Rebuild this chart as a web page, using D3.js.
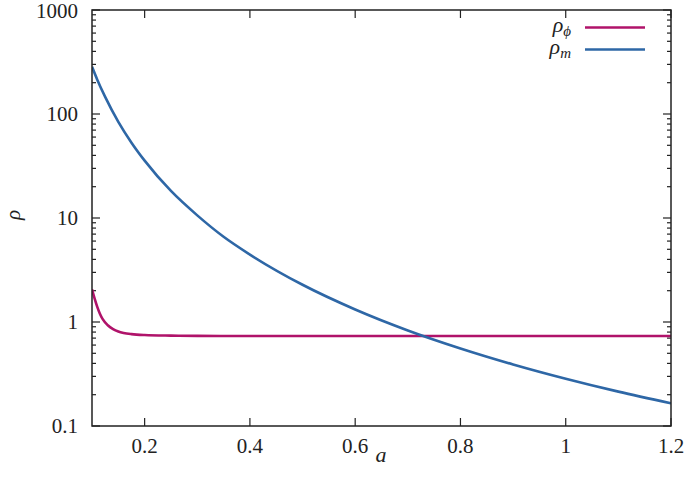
<!DOCTYPE html>
<html><head><meta charset="utf-8">
<script src="https://cdn.jsdelivr.net/npm/d3@7"></script>
<style>body{margin:0;background:#fff}svg{display:block}svg text{font-family:"Liberation Serif","DejaVu Serif","Noto Serif","Times New Roman",Times,serif}</style>
</head><body><svg id="c" width="685" height="487"></svg>
<script>
const xTicks = [0.2, 0.4, 0.6, 0.8, 1, 1.2];
const yTicks = [0.1, 1, 10, 100, 1000];
const yTickLabels = ["0.1", "1", "10", "100", "1000"];
const seriesNames = ["ρ_ϕ", "ρ_m"];
const aPhi = [0.1, 0.105, 0.11, 0.115, 0.12, 0.13, 0.14, 0.15, 0.16, 0.175, 0.2, 0.25, 0.3, 0.4, 0.6, 0.8, 1.0, 1.2];
const rhoPhi = [2.06, 1.68, 1.40, 1.20, 1.07, 0.93, 0.855, 0.81, 0.785, 0.765, 0.75, 0.74, 0.735, 0.733, 0.733, 0.733, 0.733, 0.733];
const aM = [0.1, 0.11, 0.125, 0.15, 0.175, 0.2, 0.25, 0.3, 0.35, 0.4, 0.5, 0.6, 0.7, 0.8, 0.9, 1.0, 1.1, 1.2];
const rhoM = [285, 214, 146, 84, 53, 35.6, 18.2, 10.6, 6.6, 4.45, 2.28, 1.32, 0.83, 0.557, 0.391, 0.285, 0.214, 0.165];
const colors = ["#b0136a", "#2e67a6"];

const svg = d3.select("#c");
const L = 92, R = 671, T = 10, B = 426;
const x = d3.scaleLinear().domain([0.1, 1.2]).range([L, R]);
const y = d3.scaleLog().domain([0.1, 1000]).range([B, T]);
const ink = "#222";

// minor ticks
const minor = [];
for (let d = 0.1; d < 1000; d *= 10) for (let k = 2; k <= 9; k++) minor.push(+(d * k).toPrecision(3));
const g = svg.append("g").attr("stroke", ink).attr("stroke-width", 1.2);
minor.forEach(v => {
  g.append("line").attr("x1", L).attr("x2", L + 4).attr("y1", y(v)).attr("y2", y(v));
  g.append("line").attr("x1", R).attr("x2", R - 4).attr("y1", y(v)).attr("y2", y(v));
});
yTicks.forEach(v => {
  g.append("line").attr("x1", L).attr("x2", L + 8).attr("y1", y(v)).attr("y2", y(v));
  g.append("line").attr("x1", R).attr("x2", R - 8).attr("y1", y(v)).attr("y2", y(v));
});
xTicks.forEach(v => {
  g.append("line").attr("x1", x(v)).attr("x2", x(v)).attr("y1", B).attr("y2", B - 8);
  g.append("line").attr("x1", x(v)).attr("x2", x(v)).attr("y1", T).attr("y2", T + 8);
});

// curves
const line = d3.line().x(d => x(d[0])).y(d => y(d[1])).curve(d3.curveMonotoneX);
svg.append("clipPath").attr("id", "cp").append("rect").attr("x", L).attr("y", T).attr("width", R - L).attr("height", B - T);
svg.append("path").datum(aPhi.map((a, i) => [a, rhoPhi[i]])).attr("d", line)
  .attr("fill", "none").attr("stroke", colors[0]).attr("stroke-width", 2.6).attr("clip-path", "url(#cp)");
svg.append("path").datum(aM.map((a, i) => [a, rhoM[i]])).attr("d", line)
  .attr("fill", "none").attr("stroke", colors[1]).attr("stroke-width", 2.6).attr("clip-path", "url(#cp)");

// frame
svg.append("rect").attr("x", L).attr("y", T).attr("width", R - L).attr("height", B - T)
  .attr("fill", "none").attr("stroke", ink).attr("stroke-width", 1.5);

// tick labels
yTicks.forEach((v, i) => {
  svg.append("text").attr("x", 78).attr("y", Math.max(y(v), 11)).attr("dy", "0.34em").attr("text-anchor", "end")
    .attr("font-size", 21).attr("fill", ink).text(yTickLabels[i]);
});
xTicks.forEach(v => {
  svg.append("text").attr("x", x(v)).attr("y", 453).attr("text-anchor", "middle")
    .attr("font-size", 21).attr("fill", ink).text(d3.format("")(v));
});

// axis labels
svg.append("text").attr("x", 381).attr("y", 462).attr("text-anchor", "middle")
  .attr("font-size", 22).attr("font-style", "italic").attr("fill", ink).text("a");
svg.append("text").attr("transform", "translate(20,215) rotate(-90)").attr("text-anchor", "middle")
  .attr("font-size", 21).attr("font-style", "italic").attr("fill", ink).text("ρ");

// legend
const legY = [27.5, 49.5];
seriesNames.forEach((n, i) => {
  const parts = n.split("_");
  const t = svg.append("text").attr("x", 571).attr("y", legY[i] + 4).attr("text-anchor", "end")
    .attr("font-size", 22).attr("font-style", "italic").attr("fill", ink);
  t.append("tspan").text(parts[0]);
  t.append("tspan").attr("font-size", 15).attr("dy", 4).text(parts[1]);
  svg.append("line").attr("x1", 585).attr("x2", 645).attr("y1", legY[i]).attr("y2", legY[i])
    .attr("stroke", colors[i]).attr("stroke-width", 2.6);
});
</script></body></html>
